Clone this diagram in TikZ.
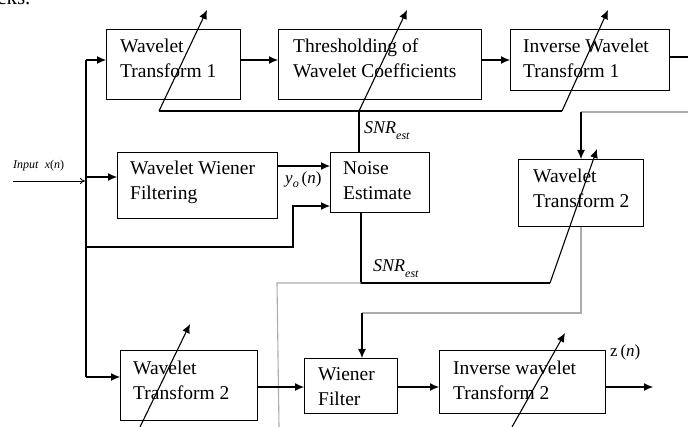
\documentclass[tikz,border=0pt]{standalone}
\usepackage{fontspec}
\setmainfont{Liberation Serif}
\usetikzlibrary{arrows.meta,calc}
\newcommand\blkfont{\fontsize{19.5}{24.5}\selectfont}
\newcommand\twoline[2]{\begin{tabular}[t]{@{}l@{}}#1\\#2\end{tabular}}
\newcommand\mysub[1]{\raisebox{-0.3em}{\fontsize{12}{14}\selectfont\textit{#1}}}
\tikzset{
  box/.style={draw, line width=1.1pt, inner sep=0pt, anchor=north west},
  lbl/.style={anchor=base west, inner sep=0pt, font=\blkfont},
  ln/.style={line width=1.1pt},
  gln/.style={line width=1.1pt, draw=gray!65},
  arr/.style={line width=1.1pt, -{Latex[length=9pt,width=8pt]}},
  mlbl/.style={anchor=base west, inner sep=0pt},
}
\begin{document}
\begin{tikzpicture}[x=1pt,y=-1pt]
\useasboundingbox (0,0) rectangle (688,427);
\renewcommand\arraystretch{1}
% boxes
\node[box, minimum width=134pt, minimum height=70pt] (wt1) at (106,29) {};
\node[lbl] (wt1t) at (120,53) {\twoline{Wavelet}{Transform 1}};
\node[box, minimum width=203pt, minimum height=70pt] (thr) at (278,29) {};
\node[lbl] (thrt) at (293,53) {\twoline{Thresholding of}{Wavelet Coefficients}};
\node[box, minimum width=159pt, minimum height=61pt] (iwt1) at (510,29) {};
\node[lbl] (iwt1t) at (523,53) {\twoline{Inverse Wavelet}{Transform 1}};
\node[box, minimum width=160pt, minimum height=66pt] (wwf) at (117,152) {};
\node[lbl] (wwft) at (130,175) {\twoline{Wavelet Wiener}{Filtering}};
\node[box, minimum width=99pt, minimum height=60pt] (ne) at (330,152) {};
\node[lbl] (net) at (343,175) {\twoline{Noise}{Estimate}};
\node[box, minimum width=125pt, minimum height=67pt] (wt2r) at (518,159) {};
\node[lbl] (wt2rt) at (533,183) {\twoline{Wavelet}{Transform 2}};
\node[box, minimum width=137pt, minimum height=70pt] (wt2l) at (120,350) {};
\node[lbl] (wt2lt) at (133,375) {\twoline{Wavelet}{Transform 2}};
\node[box, minimum width=93pt, minimum height=55pt] (wf) at (304,358) {};
\node[lbl] (wft) at (318,381) {\twoline{Wiener}{Filter}};
\node[box, minimum width=166pt, minimum height=63pt] (iwt2) at (439,350) {};
\node[lbl] (iwt2t) at (453,375) {\twoline{Inverse wavelet}{Transform 2}};

% stray text at top
\node[lbl, font=\fontsize{21}{24}\selectfont] (cks) at (-3,5) {cks.};

% labels
\node[mlbl, font=\fontsize{12}{14}\selectfont] (inl) at (13,169) {\textit{Input}\ \ \textit{x}(\textit{n})};
\node[mlbl, font=\fontsize{18}{20}\selectfont] (snr1) at (364,134) {\textit{SNR}\mysub{est}};
\node[mlbl, font=\fontsize{18}{20}\selectfont] (snr2) at (373,272) {\textit{SNR}\mysub{est}};
\node[mlbl, font=\fontsize{17}{20}\selectfont] (yo) at (285,184) {\textit{y}\raisebox{-0.2em}{\fontsize{12}{14}\selectfont\textit{o}}\,(\textit{n})};
\node[mlbl, font=\fontsize{17}{20}\selectfont] (zl) at (610,357) {z\,(\textit{n})};

% coordinates
\coordinate (inp) at (13,181);
\coordinate (inj) at (85,181);
\coordinate (v1) at (86,60);
\coordinate (v2) at (86,177);
\coordinate (v3) at (86,247);
\coordinate (v4) at (86,377);
\coordinate (k1) at (293,247);
\coordinate (k2) at (293,206);
\coordinate (r1) at (0,60);
\coordinate (r2) at (0,166);
\coordinate (r3) at (0,387);
\coordinate (out1) at (688,57);
\coordinate (d1s) at (159,111);
\coordinate (d1e) at (207,10);
\coordinate (d2s) at (359,111);
\coordinate (d2e) at (407,10);
\coordinate (d3s) at (562,111);
\coordinate (d3e) at (608,10);
\coordinate (n0) at (361,212);
\coordinate (n1) at (361,283);
\coordinate (h1) at (277,283);
\coordinate (h2) at (550,283);
\coordinate (h3) at (279,427);
\coordinate (h4) at (597,149);
\coordinate (g0) at (688,112);
\coordinate (g1) at (581,112);
\coordinate (g2) at (581,313);
\coordinate (g3) at (362,313);
\coordinate (zout) at (653,387);
\coordinate (b1s) at (140,427);
\coordinate (b1e) at (190,324);
\coordinate (b2s) at (512,427);
\coordinate (b2e) at (565,333);

% input
\draw[line width=0.8pt, -{To[length=5pt,width=6pt]}] (inp) -- (inj);
\draw[ln] (v1) -- (v4);
\draw[arr] (v1) -- (v1 -| wt1.west);
\draw[arr] (v2) -- (v2 -| wwf.west);
\draw[arr] (v3) -- (k1) -- (k2) -- (k2 -| ne.west);
\draw[arr] (v4) -- (v4 -| wt2l.west);

% top row
\draw[arr] (wt1.east |- r1) -- (thr.west |- r1);
\draw[arr] (thr.east |- r1) -- (iwt1.west |- r1);
\draw[ln] (iwt1.east |- out1) -- (out1);

% threshold control lines
\draw[ln] (d1s) -- (d3s);
\draw[arr] (d1s) -- (d1e);
\draw[arr] (d2s) -- (d2e);
\draw[arr] (d3s) -- (d3e);
\draw[ln] (d2s) -- (d2s |- ne.north);

% wiener to noise estimate
\draw[arr] (wwf.east |- r2) -- (ne.west |- r2);

% noise estimate output
\draw[ln] (n0) -- (n1) -- (h2);
\draw[gln] (n1) -- (h1) -- (h3);
\draw[arr] (h2) -- (h4);

% feedback to wavelet transform 2 (right)
\draw[gln] (g0) -- (g1);
\draw[arr] (g1) -- (g1 |- wt2r.north);
\draw[gln] (g1 |- wt2r.south) -- (g2) -- (g3);
\draw[arr] (g3) -- (g3 |- wf.north);

% bottom row
\draw[arr] (wt2l.east |- r3) -- (wf.west |- r3);
\draw[arr] (wf.east |- r3) -- (iwt2.west |- r3);
\draw[arr] (iwt2.east |- r3) -- (zout);
\draw[arr] (b1s) -- (b1e);
\draw[arr] (b2s) -- (b2e);
\end{tikzpicture}
\end{document}
